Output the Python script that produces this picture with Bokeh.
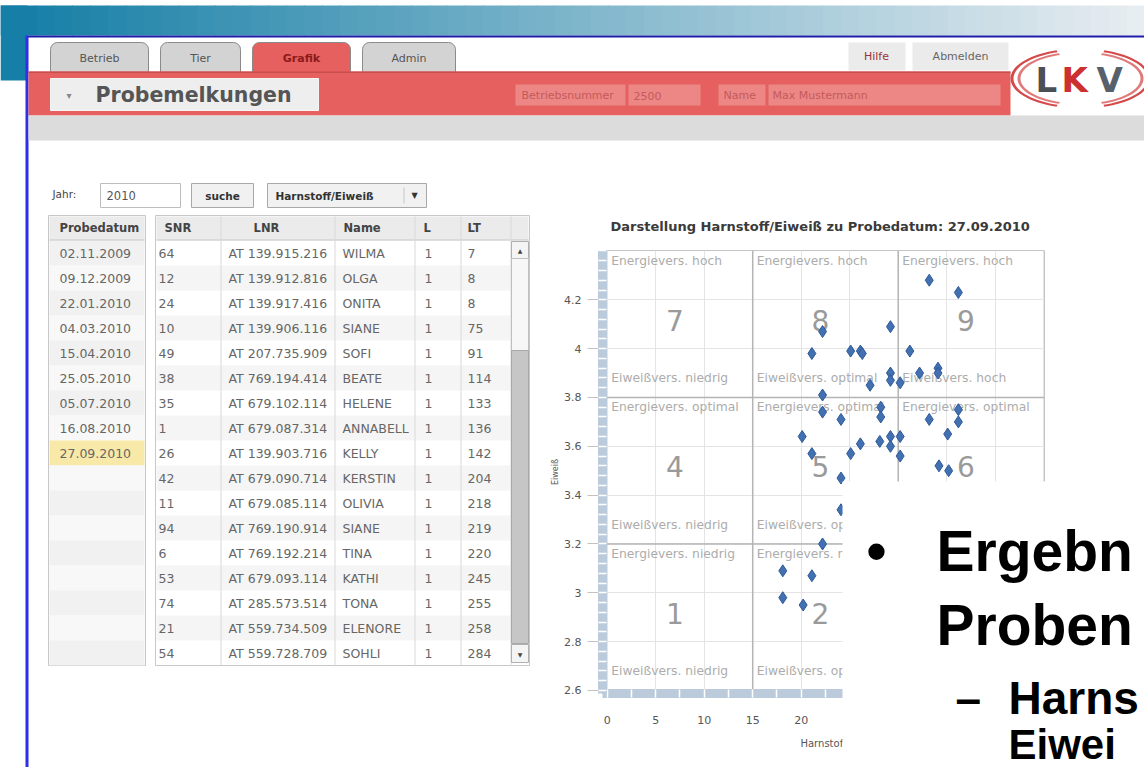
import numpy as np
from bokeh.plotting import figure
from bokeh.layouts import column
from bokeh.models import (BoxAnnotation, ColumnDataSource, Span, FixedTicker,
                          CustomJSTickFormatter, Range1d)
from bokeh.core.properties import value
from bokeh.embed import file_html
from bokeh.resources import INLINE

# ---------------- data ----------------
harnstoff = [33.2, 36.2, 29.2, 22.2, 21.1, 25.1, 26.1, 26.3, 31.2, 29.2, 29.2, 30.2, 27.1, 32.2, 34.1, 34.1,
             22.2, 22.2, 24.1, 28.2, 28.2, 20.1, 21.1, 25.1, 26.1, 28.1, 29.2, 29.2, 30.2, 30.2, 24.1,
             33.2, 36.2, 36.2, 35.1, 34.2, 35.2, 24.1, 22.2, 18.1, 21.1, 18.1, 20.2]
eiweiss = [4.28, 4.23, 4.09, 4.07, 3.98, 3.99, 3.99, 3.98, 3.99, 3.90, 3.87, 3.86, 3.85, 3.90, 3.92, 3.90,
           3.81, 3.74, 3.71, 3.76, 3.72, 3.64, 3.57, 3.57, 3.61, 3.62, 3.64, 3.60, 3.64, 3.56, 3.47,
           3.71, 3.75, 3.70, 3.65, 3.52, 3.50, 3.34, 3.20, 3.09, 3.07, 2.98, 2.95]
x_ticks = [0, 5, 10, 15, 20, 25, 30, 35, 40, 45]
y_ticks = [2.6, 2.8, 3, 3.2, 3.4, 3.6, 3.8, 4, 4.2]
x_bounds = [0, 15, 30, 45]          # Harnstoff classes
y_bounds = [4.4, 3.8, 3.2, 2.6]     # Eiweiss classes (top -> bottom)
cell_numbers = [[7, 8, 9], [4, 5, 6], [1, 2, 3]]
energie_labels = ["Energievers. hoch", "Energievers. optimal", "Energievers. niedrig"]
eiweiss_labels = ["Eiweißvers. niedrig", "Eiweißvers. optimal", "Eiweißvers. hoch"]

probedatum = ["02.11.2009", "09.12.2009", "22.01.2010", "04.03.2010", "15.04.2010",
              "25.05.2010", "05.07.2010", "16.08.2010", "27.09.2010"]
snr = ["64", "12", "24", "10", "49", "38", "35", "1", "26", "42", "11", "94", "6", "53", "74", "21", "54"]
lnr = ["AT 139.915.216", "AT 139.912.816", "AT 139.917.416", "AT 139.906.116", "AT 207.735.909",
       "AT 769.194.414", "AT 679.102.114", "AT 679.087.314", "AT 139.903.716", "AT 679.090.714",
       "AT 679.085.114", "AT 769.190.914", "AT 769.192.214", "AT 679.093.114", "AT 285.573.514",
       "AT 559.734.509", "AT 559.728.709"]
names = ["WILMA", "OLGA", "ONITA", "SIANE", "SOFI", "BEATE", "HELENE", "ANNABELL", "KELLY", "KERSTIN",
         "OLIVIA", "SIANE", "TINA", "KATHI", "TONA", "ELENORE", "SOHLI"]
lakt = ["1"] * 17
lt = ["7", "8", "8", "75", "91", "114", "133", "136", "142", "204", "218", "219", "220", "245",
      "255", "258", "284"]
selected_date = "27.09.2010"
slide_lines = ["Ergebn", "Proben", "Harns", "Eiwei"]

W, H = 1144, 767
UI = "DejaVu Sans"

# ---------------- scatter chart (bottom layer) ----------------
FL, FR, FT, FB = 602, 1044, 250, 693
p = figure(width=W, height=H, output_backend="svg", toolbar_location=None,
           x_range=Range1d(-0.485, 45.08), y_range=Range1d(2.5877, 4.4018),
           min_border_left=FL, min_border_right=W - FR, min_border_top=FT, min_border_bottom=H - FB,
           background_fill_color="white", border_fill_color="white")
p.frame_align = False
p.outline_line_color = "#c4c4c4"
p.xaxis.ticker = FixedTicker(ticks=x_ticks, minor_ticks=list(np.arange(0, 45.1, 2.5)))
p.yaxis.ticker = FixedTicker(ticks=y_ticks, minor_ticks=list(np.arange(2.6, 4.41, 0.04)))
p.yaxis.formatter = CustomJSTickFormatter(code="return (Math.round(tick*10)/10).toString();")
for ax in (p.xaxis[0], p.yaxis[0]):
    ax.axis_line_color = "#bccbdb"
    ax.axis_line_width = 9
    ax.minor_tick_line_color = "white"
    ax.minor_tick_in = 4
    ax.minor_tick_out = 4
    ax.minor_tick_line_width = 1.5
    ax.major_label_text_font = UI
    ax.major_label_text_font_size = "11px"
    ax.major_label_text_color = "#555555"
    ax.axis_label_text_font = UI
    ax.axis_label_text_font_style = "normal"
    ax.axis_label_text_color = "#555555"
p.xaxis.major_tick_line_color = "white"
p.xaxis.major_tick_in = 4
p.xaxis.major_tick_out = 4
p.xaxis.major_label_standoff = 18
p.xaxis.axis_label = "Harnstoff"
p.xaxis.axis_label_text_font_size = "10px"
p.xaxis.axis_label_standoff = 11
p.yaxis.major_tick_line_color = "#c2c2c2"
p.yaxis.major_tick_in = 0
p.yaxis.major_tick_out = 15
p.yaxis.major_label_standoff = 6
p.yaxis.axis_label = "Eiweiß"
p.yaxis.axis_label_text_font_size = "8px"
p.yaxis.axis_label_standoff = 1
p.xgrid.grid_line_color = "#e4e4e4"
p.ygrid.grid_line_color = "#e4e4e4"

for xb in x_bounds[1:-1]:
    p.add_layout(Span(location=xb, dimension="height", line_color="#b4b4b4", line_width=1.5, level="underlay"))
for yb in y_bounds[1:-1]:
    p.add_layout(Span(location=yb, dimension="width", line_color="#b4b4b4", line_width=1.5, level="underlay"))

tx, ty, tt, bx, byy, bt, nx, ny, nt = [], [], [], [], [], [], [], [], []
for r in range(3):
    for c in range(3):
        tx.append(x_bounds[c]); ty.append(y_bounds[r]); tt.append(energie_labels[r])
        bx.append(x_bounds[c]); byy.append(y_bounds[r + 1]); bt.append(eiweiss_labels[c])
        nx.append((x_bounds[c] + x_bounds[c + 1]) / 2); ny.append((y_bounds[r] + y_bounds[r + 1]) / 2)
        nt.append(str(cell_numbers[r][c]))
p.text(x=tx, y=ty, text=tt, x_offset=4, y_offset=10, text_baseline="middle",
       text_font=value(UI), text_font_size="12.3px", text_color="#acacac")
p.text(x=bx, y=byy, text=bt, x_offset=4, y_offset=-19, text_baseline="middle",
       text_font=value(UI), text_font_size="12.3px", text_color="#acacac")
p.text(x=nx, y=ny, text=nt, x_offset=-5, y_offset=-4, text_align="center", text_baseline="middle",
       text_font=value(UI), text_font_size="28px", text_color="#9a9a9a")

p.scatter(harnstoff, eiweiss, marker="diamond", size=12,
          fill_color="#4270b0", line_color="#2d5a98", line_width=1)

# ---------------- page chrome (transparent top layer, page pixel coordinates) ----------------
q = figure(width=W, height=H, output_backend="svg", toolbar_location=None,
           x_range=Range1d(0, W), y_range=Range1d(H, 0),
           x_axis_location=None, y_axis_location=None, min_border=0,
           background_fill_alpha=0, border_fill_alpha=0, outline_line_color=None)
q.frame_align = False
q.grid.visible = False
q.margin = (-H, 0, 0, 0)

R = dict(x0=[], x1=[], y0=[], y1=[], fill=[], line=[], lw=[])
T = dict(x=[], y=[], text=[], size=[], color=[], style=[], font=[], align=[], baseline=[])
NOLINE = "rgba(0,0,0,0)"


def rect(x0, y0, x1, y1, fill, line=None, lw=1):
    R["x0"].append(x0); R["x1"].append(x1); R["y0"].append(y0); R["y1"].append(y1)
    R["fill"].append(fill); R["line"].append(line or NOLINE); R["lw"].append(lw)


def txt(x, y, text, size, color, bold=False, font=UI, align="left", baseline="middle"):
    T["x"].append(x); T["y"].append(y); T["text"].append(text); T["size"].append(f"{size}px")
    T["color"].append(color); T["style"].append("bold" if bold else "normal"); T["font"].append(font)
    T["align"].append(align); T["baseline"].append(baseline)


# top gradient band and window frame
c0 = np.array([20, 126, 166]); c1 = np.array([232, 237, 241])
n = 64
edges = np.linspace(0, W, n + 1)
for i in range(n):
    t = i / (n - 1)
    c = (c0 + (c1 - c0) * t).astype(int)
    rect(edges[i], 5, edges[i + 1] + 0.8, 35, "#%02x%02x%02x" % tuple(c))
rect(0, 5, 27, 80, "#167fa8")
rect(27, 35, W, 37, "#1c1ca8")
rect(25, 35, 28, H, "#2f2fe6")

# tabs (rounded) as underlay boxes
tabs = [("Betrieb", 50, 148), ("Tier", 160, 240), ("Grafik", 252, 350), ("Admin", 362, 455)]
for name, x0, x1 in tabs:
    active = name == "Grafik"
    q.add_layout(BoxAnnotation(left=x0, right=x1, top=42, bottom=74, level="underlay",
                               fill_color="#e6605f" if active else "#d3d3d3", fill_alpha=1,
                               line_color="#8a8a8a", line_alpha=1, line_width=1,
                               border_radius=(7, 7, 0, 0)))
    txt((x0 + x1) / 2, 58, name, 11, "#8b1a1a" if active else "#555555", bold=active, align="center")

rect(28, 71, 1010, 115, "#e5605f")
rect(28, 71, 1010, 72.5, "#c84d4d")
rect(50, 78, 318, 110, "#eeeeee", line="#f6f6f6")
txt(66, 95, "▾", 10, "#888888")
txt(95, 94, "Probemelkungen", 20.5, "#555555", bold=True)
rect(515, 84, 625, 105, "#ec8786")
rect(628, 84, 700, 105, "#ec8786")
txt(521, 95, "Betriebsnummer", 11, "#c45a5a")
txt(633, 95, "2500", 11, "#c45a5a")
rect(718, 84, 765, 105, "#ec8786")
rect(768, 84, 1000, 105, "#ec8786")
txt(723, 95, "Name", 11, "#c45a5a")
txt(772, 95, "Max Mustermann", 11, "#c45a5a")
rect(848, 42, 905, 70, "#ebebeb")
txt(876, 56, "Hilfe", 11, "#9a3434", align="center")
rect(912, 42, 1008, 70, "#ebebeb")
txt(960, 56, "Abmelden", 11, "#666666", align="center")
rect(28, 115, W, 140, "#dcdcdc")

# controls
txt(52, 193, "Jahr:", 10.5, "#444444")
rect(100, 183, 180, 207, "white", line="#bdbdbd")
txt(106, 195, "2010", 11.5, "#555555")
rect(191, 183, 253, 207, "#f1f1f1", line="#a8a8a8")
txt(222, 195, "suche", 10.5, "#333333", bold=True, align="center")
rect(267, 183, 426, 207, "#f1f1f1", line="#a8a8a8")
txt(275, 195, "Harnstoff/Eiweiß", 10.5, "#333333", bold=True)
rect(403, 187, 404, 203, "#c8c8c8")
txt(414, 195, "▼", 8, "#333333", align="center")

# tables
ROW0, RH, NR = 240, 25, len(snr)
rows_y = [ROW0 + RH * i + RH / 2 for i in range(NR)]
rect(48, 215, 145, ROW0 + RH * NR, "#fafafa", line="#c8c8c8")
rect(155, 215, 529, ROW0 + RH * NR, "white", line="#c8c8c8")
for i in range(NR):
    y0 = ROW0 + RH * i
    is_sel = i < len(probedatum) and probedatum[i] == selected_date
    rect(49, y0, 144, y0 + RH, "#f9e9a8" if is_sel else ("#f1f1f1" if i % 2 == 0 else "#f8f8f8"))
    if i % 2 == 1:
        rect(156, y0, 510, y0 + RH, "#f5f5f5")
rect(49, 216, 144, 240, "#ebebeb")
rect(156, 216, 528, 240, "#ebebeb")
rect(49, 239, 144, 240, "#c8c8c8")
rect(156, 239, 528, 240, "#c8c8c8")
for xv in [220, 334, 414, 460, 510]:
    rect(xv, 216, xv + 1, ROW0 + RH * NR, "#d9d9d9")
rect(511, 241, 528, 258, "#f4f4f4", line="#b0b0b0")
txt(519.5, 250, "▲", 6, "#444444", align="center")
rect(511, 258, 528, 350, "#f7f7f7", line="#c0c0c0")
rect(511, 350, 528, 643, "#c6c6c6", line="#a8a8a8")
rect(511, 644, 528, 662, "#f4f4f4", line="#b0b0b0")
txt(519.5, 654, "▼", 6, "#444444", align="center")

txt(59, 227, "Probedatum", 11.5, "#444444", bold=True)
txt(164, 227, "SNR", 11.5, "#444444", bold=True)
txt(266, 227, "LNR", 11.5, "#444444", bold=True, align="center")
txt(343, 227, "Name", 11.5, "#444444", bold=True)
txt(423, 227, "L", 11.5, "#444444", bold=True)
txt(467, 227, "LT", 11.5, "#444444", bold=True)
for i, d in enumerate(probedatum):
    txt(59, rows_y[i], d, 12.5, "#666666")
for i in range(NR):
    txt(158, rows_y[i], snr[i], 12.5, "#666666")
    txt(228, rows_y[i], lnr[i], 12.5, "#666666")
    txt(342, rows_y[i], names[i], 12.5, "#666666")
    txt(424, rows_y[i], lakt[i], 12.5, "#666666")
    txt(467, rows_y[i], lt[i], 12.5, "#666666")

# chart title
txt(610, 226, "Darstellung Harnstoff/Eiweiß zu Probedatum: " + selected_date, 13, "#3a3a3a", bold=True)

# LKV logo letters
txt(1035, 79, "L", 34, "#4b5056", bold=True)
txt(1061, 79, "K", 34, "#cc3030", bold=True)
txt(1096, 79, "V", 34, "#56616b", bold=True)

# slide text box covering part of the chart
rect(842, 481, W + 2, H + 2, "white")
txt(866, 550, "•", 57, "black", bold=True, font="Liberation Sans", baseline="alphabetic")
txt(936, 550, slide_lines[0], 57, "black", bold=True, font="Liberation Sans", baseline="alphabetic")
txt(936, 624, slide_lines[1], 57, "black", bold=True, font="Liberation Sans", baseline="alphabetic")
txt(955, 697, "–", 46, "black", bold=True, font="Liberation Sans", baseline="alphabetic")
txt(1008, 697, slide_lines[2], 46, "black", bold=True, font="Liberation Sans", baseline="alphabetic")
txt(1008, 744, slide_lines[3], 42, "black", bold=True, font="Liberation Sans", baseline="alphabetic")

q.quad(left="x0", right="x1", top="y0", bottom="y1", fill_color="fill", line_color="line",
       line_width="lw", source=ColumnDataSource(R))

# LKV logo arcs
cx, cy = 1080, 78
pxs, pys, pcs = [], [], []
for rx, ry, col in [(70, 30, "#d44a4a"), (63, 27, "#e07a7a")]:
    for a0, a1 in [(110, 250), (-70, 70)]:
        ang = np.radians(np.linspace(a0, a1, 40))
        pxs.append(list(cx + rx * np.cos(ang)) + list(cx + (rx - 3) * np.cos(ang[::-1])))
        pys.append(list(cy - ry * np.sin(ang)) + list(cy - (ry - 2) * np.sin(ang[::-1])))
        pcs.append(col)
q.patches(xs=pxs, ys=pys, fill_color=pcs, line_color=None)

q.text(x="x", y="y", text="text", text_font_size="size", text_color="color", text_font_style="style",
       text_font="font", text_align="align", text_baseline="baseline", source=ColumnDataSource(T))

layout = column(p, q, spacing=0)
open("out.html", "w").write(file_html(layout, INLINE))
